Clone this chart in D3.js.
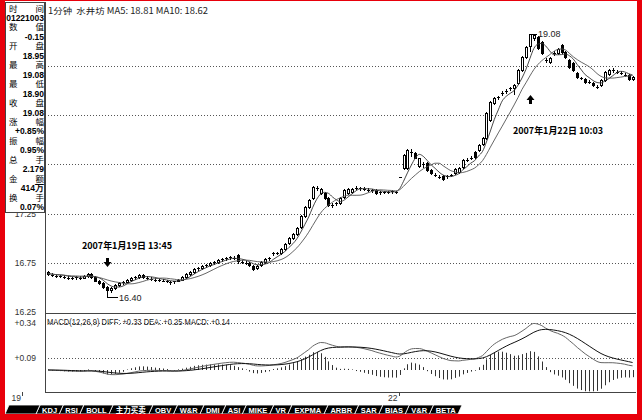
<!DOCTYPE html>
<html><head><meta charset="utf-8">
<script src="https://cdn.jsdelivr.net/npm/d3@7"></script>
<style>body{margin:0;background:#fff}svg{display:block}</style>
</head><body><svg id="c" width="642" height="420"></svg>
<script>
// ---------- data ----------
const opens=[16.66,16.64,16.63,16.62,16.62,16.61,16.60,16.60,16.61,16.60,16.62,16.64,16.61,16.57,16.54,16.50,16.47,16.49,16.52,16.54,
16.55,16.58,16.60,16.61,16.63,16.61,16.60,16.59,16.58,16.58,16.57,16.56,16.55,16.56,16.58,16.61,16.64,16.66,16.69,16.70,
16.72,16.73,16.75,16.76,16.78,16.79,16.80,16.81,16.83,16.77,16.76,16.75,16.72,16.70,16.73,16.76,16.79,16.85,16.85,16.85,
16.89,16.95,17.00,17.04,17.11,17.23,17.32,17.41,17.51,17.46,17.46,17.41,17.34,17.35,17.36,17.42,17.46,17.47,17.51,17.51,
17.50,17.49,17.49,17.49,17.47,17.47,17.47,17.47,17.47,17.62,17.71,17.71,17.88,17.87,17.73,17.75,17.76,17.69,17.64,17.62,
17.63,17.62,17.64,17.66,17.67,17.72,17.79,17.82,17.88,17.90,17.96,18.02,18.20,18.37,18.43,18.48,18.49,18.53,18.53,18.58,
18.71,18.84,18.95,19.03,19.04,18.99,18.81,18.79,18.88,18.88,18.96,18.89,18.81,18.78,18.68,18.63,18.62,18.59,18.58,18.54,
18.56,18.61,18.67,18.71,18.69,18.68,18.66,18.66,18.62];
const highs=[16.67,16.65,16.64,16.63,16.63,16.62,16.61,16.62,16.62,16.63,16.65,16.65,16.62,16.58,16.55,16.51,16.50,16.53,16.55,16.56,
16.59,16.61,16.62,16.64,16.64,16.62,16.61,16.60,16.59,16.59,16.58,16.57,16.57,16.59,16.62,16.65,16.67,16.70,16.71,16.73,
16.74,16.76,16.77,16.79,16.80,16.81,16.82,16.82,16.84,16.78,16.77,16.76,16.73,16.73,16.77,16.80,16.81,16.86,16.86,16.90,
16.95,17.01,17.05,17.11,17.24,17.33,17.40,17.53,17.53,17.51,17.47,17.42,17.36,17.37,17.42,17.50,17.51,17.51,17.53,17.52,
17.52,17.51,17.50,17.50,17.48,17.48,17.48,17.49,17.48,17.62,17.86,17.91,17.91,17.88,17.82,17.77,17.77,17.70,17.66,17.64,
17.64,17.64,17.65,17.71,17.72,17.80,17.81,17.84,17.89,17.96,18.03,18.28,18.39,18.43,18.45,18.50,18.52,18.54,18.57,18.72,
18.85,18.95,19.08,19.08,19.05,19.00,18.83,18.84,18.90,18.93,18.97,18.90,18.82,18.79,18.69,18.64,18.63,18.61,18.59,18.56,
18.62,18.70,18.72,18.73,18.71,18.70,18.68,18.67,18.65];
const lows=[16.63,16.62,16.61,16.61,16.60,16.59,16.59,16.59,16.59,16.60,16.61,16.60,16.56,16.53,16.49,16.40,16.45,16.48,16.51,16.53,
16.55,16.57,16.59,16.60,16.60,16.59,16.58,16.57,16.57,16.56,16.55,16.53,16.54,16.56,16.58,16.60,16.63,16.65,16.68,16.69,
16.71,16.72,16.74,16.75,16.77,16.78,16.79,16.79,16.75,16.75,16.74,16.72,16.68,16.69,16.72,16.75,16.78,16.83,16.84,16.84,
16.88,16.94,16.99,17.03,17.10,17.22,17.31,17.40,17.49,17.45,17.40,17.33,17.32,17.34,17.35,17.41,17.45,17.46,17.50,17.49,
17.49,17.48,17.47,17.45,17.45,17.46,17.46,17.46,17.46,17.62,17.70,17.70,17.84,17.81,17.72,17.72,17.68,17.65,17.63,17.61,
17.59,17.61,17.63,17.65,17.66,17.71,17.78,17.80,17.82,17.89,17.95,18.01,18.19,18.36,18.41,18.46,18.48,18.51,18.47,18.57,
18.70,18.83,18.90,19.01,18.92,18.87,18.79,18.78,18.86,18.87,18.88,18.83,18.73,18.70,18.63,18.62,18.58,18.58,18.55,18.53,
18.55,18.60,18.66,18.69,18.68,18.67,18.65,18.61,18.61];
const closes=[16.64,16.63,16.62,16.62,16.61,16.60,16.60,16.61,16.60,16.62,16.64,16.61,16.57,16.54,16.50,16.47,16.49,16.52,16.54,16.55,
16.58,16.60,16.61,16.63,16.61,16.60,16.59,16.58,16.58,16.57,16.56,16.55,16.56,16.58,16.61,16.64,16.66,16.69,16.70,16.72,
16.73,16.75,16.76,16.78,16.79,16.80,16.81,16.80,16.77,16.76,16.75,16.73,16.69,16.72,16.76,16.79,16.80,16.85,16.85,16.89,
16.94,17.00,17.04,17.10,17.23,17.32,17.39,17.52,17.51,17.50,17.41,17.34,17.34,17.36,17.41,17.49,17.50,17.50,17.51,17.51,
17.50,17.49,17.49,17.46,17.47,17.47,17.47,17.48,17.47,17.62,17.85,17.90,17.88,17.82,17.81,17.75,17.69,17.66,17.64,17.62,
17.60,17.63,17.64,17.70,17.71,17.79,17.79,17.82,17.83,17.95,18.02,18.27,18.38,18.42,18.43,18.48,18.50,18.53,18.56,18.71,
18.84,18.94,19.08,19.07,18.93,18.88,18.81,18.83,18.88,18.92,18.89,18.84,18.74,18.71,18.64,18.63,18.59,18.59,18.56,18.54,
18.61,18.69,18.71,18.71,18.69,18.68,18.66,18.62,18.64];
const dayStarts=[{i:0,label:"19"},{i:89,label:"22"}];
const priceTicks=[16.25,16.75,17.25,17.75,18.25,18.75];
const macdTicks=[0.34,0.09];
const infoRows=[["时","间","01221003"],["数","值","-0.15"],["开","盘","18.95"],["最","高","19.08"],["最","低","18.90"],
["收","盘","19.08"],["涨","幅","+0.85%"],["振","幅","0.95%"],["总","手","2.179"],["金","额","414万"],["换","手","0.07%"]];
const tabs=["","KDJ","RSI","BOLL","主力买卖","OBV","W&R","DMI","ASI","MIKE","VR","EXPMA","ARBR","SAR","BIAS","V&R","BETA"];
const title="1分钟  水井坊 MA5: 18.81 MA10: 18.62";
const macdTitle="MACD(12,26,9) DIFF: +0.33 DEA: +0.25 MACD: +0.14";
const notes=[{i:15,text:"2007年1月19日 13:45",dir:"down"},{i:122,text:"2007年1月22日 10:03",dir:"up"}];
const cursorIdx=122, lowIdx=15;

// ---------- derived indicators ----------
const N=closes.length;
function ma(n){return closes.map((c,i)=>d3.mean(closes.slice(Math.max(0,i-n+1),i+1)));}
const ma5=ma(5), ma10=ma(10);
let e12=closes[0],e26=closes[0],dea=0;const diff=[],deaA=[],mac=[];
closes.forEach(c=>{e12=e12*11/13+c*2/13;e26=e26*25/27+c*2/27;const d=e12-e26;dea=dea*0.8+d*0.2;diff.push(d);deaA.push(dea);mac.push(2*(d-dea));});

// ---------- layout ----------
const svg=d3.select("#c");
const L=45,R=636,PT=2,PB=313,MB=392;
const x=d3.scaleLinear().domain([0,N-1]).range([48,632.6]);
const y=d3.scaleLinear().domain([16.25,18.75]).range([312,66]);
const ym=d3.scaleLinear().domain([0,0.34]).range([370,323]);
const numFont="'Liberation Sans',Arial,sans-serif", cjk="'Noto Sans CJK SC',sans-serif";

svg.append("rect").attr("width",642).attr("height",420).attr("fill","#fff");

// grid
const g=svg.append("g");
g.selectAll("line.pg").data(priceTicks.filter(t=>t>16.25)).join("line")
 .attr("x1",L).attr("x2",R).attr("y1",d=>Math.round(y(d))+0.5).attr("y2",d=>Math.round(y(d))+0.5)
 .attr("stroke","#555").attr("stroke-dasharray","1,2");
g.selectAll("line.mg").data(macdTicks).join("line")
 .attr("x1",L).attr("x2",R).attr("y1",d=>Math.round(ym(d))+0.5).attr("y2",d=>Math.round(ym(d))+0.5)
 .attr("stroke","#555").attr("stroke-dasharray","1,2");
g.append("line").attr("x1",L+0.5).attr("x2",L+0.5).attr("y1",PT).attr("y2",MB).attr("stroke","#444");
g.append("line").attr("x1",L).attr("x2",R).attr("y1",PB+0.5).attr("y2",PB+0.5).attr("stroke","#444");
g.append("line").attr("x1",L).attr("x2",R).attr("y1",MB+0.5).attr("y2",MB+0.5).attr("stroke","#444");

// y labels
g.selectAll("text.pl").data(priceTicks).join("text")
 .attr("x",36).attr("y",d=>y(d)+3).attr("text-anchor","end")
 .attr("font-family",numFont).attr("font-size",8.5).attr("fill","#333").text(d=>d.toFixed(2));
g.selectAll("text.ml").data(macdTicks).join("text")
 .attr("x",36).attr("y",d=>ym(d)+3).attr("text-anchor","end")
 .attr("font-family",numFont).attr("font-size",8.5).attr("fill","#333").text(d=>"+"+d.toFixed(2));
g.selectAll("text.xl").data(dayStarts).join("text")
 .attr("x",d=>d.i===0?21:x(d.i)-2).attr("y",401).attr("text-anchor","end")
 .attr("font-family",numFont).attr("font-size",8.5).attr("fill","#333").text(d=>d.label);
g.selectAll("line.xt").data(dayStarts).join("line")
 .attr("x1",d=>d.i===0?22.5:Math.round(x(d.i)-1)+0.5).attr("x2",d=>d.i===0?22.5:Math.round(x(d.i)-1)+0.5)
 .attr("y1",392).attr("y2",396).attr("stroke","#444");

// candles
const cg=svg.append("g");
const idx=d3.range(N);
cg.selectAll("line.w").data(idx).join("line")
 .attr("x1",i=>Math.round(x(i))+0.5).attr("x2",i=>Math.round(x(i))+0.5)
 .attr("y1",i=>Math.round(y(highs[i]))).attr("y2",i=>Math.round(y(lows[i]))+1)
 .attr("stroke","#000");
cg.selectAll("rect.b").data(idx.filter(i=>Math.abs(opens[i]-closes[i])>=0.015)).join("rect")
 .attr("x",i=>Math.round(x(i))-0.5).attr("width",2)
 .attr("y",i=>Math.round(y(Math.max(opens[i],closes[i])))+0.5)
 .attr("height",i=>Math.max(1,Math.round(y(Math.min(opens[i],closes[i])))-Math.round(y(Math.max(opens[i],closes[i])))))
 .attr("fill",i=>closes[i]>=opens[i]?"#fff":"#000").attr("stroke","#000");
cg.selectAll("line.d").data(idx.filter(i=>Math.abs(opens[i]-closes[i])<0.015)).join("line")
 .attr("x1",i=>Math.round(x(i))-1).attr("x2",i=>Math.round(x(i))+2)
 .attr("y1",i=>Math.round(y(closes[i]))+0.5).attr("y2",i=>Math.round(y(closes[i]))+0.5)
 .attr("stroke","#000");

// MA lines
const lineP=d3.line().x((d,i)=>x(i)).y(d=>y(d)).curve(d3.curveMonotoneX);
svg.append("path").attr("d",lineP(ma5)).attr("fill","none").attr("stroke","#333").attr("stroke-width",0.9);
svg.append("path").attr("d",lineP(ma10)).attr("fill","none").attr("stroke","#555").attr("stroke-width",0.9);

// MACD
const mg=svg.append("g");
mg.selectAll("line.h").data(idx).join("line")
 .attr("x1",i=>Math.round(x(i))+0.5).attr("x2",i=>Math.round(x(i))+0.5)
 .attr("y1",ym(0)).attr("y2",i=>ym(mac[i])+(mac[i]>=0?-0.5:0.5))
 .attr("stroke","#333").attr("stroke-width",1);
const lineM=d3.line().x((d,i)=>x(i)).y(d=>ym(d)).curve(d3.curveMonotoneX);
mg.append("path").attr("d",lineM(diff)).attr("fill","none").attr("stroke","#666");
mg.append("path").attr("d",lineM(deaA)).attr("fill","none").attr("stroke","#111");

// titles
svg.append("text").attr("x",48).attr("y",14).attr("font-family",cjk).attr("font-size",8.5).attr("fill","#222")
 .attr("xml:space","preserve").attr("textLength",160).attr("lengthAdjust","spacingAndGlyphs").text(title);
svg.append("text").attr("x",47).attr("y",325).attr("font-family",numFont).attr("font-size",8.5).attr("fill","#222")
 .attr("textLength",183).attr("lengthAdjust","spacingAndGlyphs").text(macdTitle);

// annotations
const an=svg.append("g").attr("font-family",cjk).attr("font-weight","bold").attr("font-size",9.5).attr("fill","#000");
notes.forEach(n=>{
  const xc=Math.round(x(n.i))+0.5;
  if(n.dir==="down"){
    an.append("text").attr("x",82).attr("y",249).attr("textLength",90).attr("lengthAdjust","spacingAndGlyphs").text(n.text);
    an.append("path").attr("d",`M${xc-1.5},${258}h3v4h2.5l-4,5l-4,-5h2.5z`).attr("fill","#000");
  } else {
    an.append("text").attr("x",513).attr("y",134).attr("textLength",90).attr("lengthAdjust","spacingAndGlyphs").text(n.text);
    an.append("path").attr("d",`M${xc-1.5},${104}h3v-4h2.5l-4,-5l-4,5h2.5z`).attr("fill","#000");
  }
});
const lx=Math.round(x(lowIdx));
svg.append("line").attr("x1",lx+1).attr("x2",lx+11).attr("y1",Math.round(y(lows[lowIdx]))+0.5).attr("y2",Math.round(y(lows[lowIdx]))+0.5).attr("stroke","#000");
svg.append("text").attr("x",lx+12).attr("y",y(lows[lowIdx])+3.5).attr("font-family",numFont).attr("font-size",9).attr("fill","#222").text(lows[lowIdx].toFixed(2));
const hx=Math.round(x(cursorIdx));
svg.append("line").attr("x1",hx+2).attr("x2",hx+7).attr("y1",Math.round(y(highs[cursorIdx]))+0.5).attr("y2",Math.round(y(highs[cursorIdx]))+0.5).attr("stroke","#000");
svg.append("text").attr("x",hx+8).attr("y",y(highs[cursorIdx])+3).attr("font-family",numFont).attr("font-size",9).attr("fill","#222").text(highs[cursorIdx].toFixed(2));

// info panel
const ip=svg.append("g");
ip.append("rect").attr("x",5.5).attr("y",2.5).attr("width",39).attr("height",210).attr("fill","#fff").attr("stroke","#444");
infoRows.forEach((r,k)=>{
  const yl=11.5+k*18.9, yv=21+k*18.9;
  ip.append("text").attr("x",9).attr("y",yl).attr("font-family",cjk).attr("font-size",8.5).attr("fill","#000").text(r[0]);
  ip.append("text").attr("x",44).attr("y",yl).attr("text-anchor","end").attr("font-family",cjk).attr("font-size",8.5).attr("fill","#000").text(r[1]);
  ip.append("text").attr("x",44).attr("y",yv).attr("text-anchor","end").attr("font-family",numFont).attr("font-weight","bold").attr("font-size",8.5).attr("fill","#000").text(r[2]);
});

// tabs
const tg=svg.append("g");
const tabText=tg.selectAll("text").data(tabs).join("text")
 .attr("y",412.5).attr("text-anchor","middle")
 .attr("font-family",d=>/[\u4e00-\u9fff]/.test(d)?cjk:numFont).attr("font-weight","bold").attr("font-size",7.5).attr("fill","#fff").text(d=>d);
const widths=tabText.nodes().map((n,k)=>k===0?28:n.getComputedTextLength()+6);
const total=d3.sum(widths), kf=(462-5-4)/total;
let tx=5;const lay=widths.map(w=>{const o={x:tx,w:w*kf};tx+=w*kf;return o;});
tg.selectAll("path").data(lay).join("path")
 .attr("d",d=>`M${d.x},414 L${d.x+4},405 L${d.x+d.w+4},405 L${d.x+d.w},414 Z`).attr("fill","#000").attr("stroke","#fff").attr("stroke-width",0.8).lower();
tabText.attr("x",(d,k)=>lay[k].x+lay[k].w/2+2);

// red frame
svg.append("rect").attr("x",0).attr("y",0).attr("width",5).attr("height",420).attr("fill","#e8000b");
svg.append("rect").attr("x",637).attr("y",0).attr("width",5).attr("height",420).attr("fill","#e8000b");
svg.append("rect").attr("x",0).attr("y",414).attr("width",642).attr("height",6).attr("fill","#e8000b");
svg.append("rect").attr("x",0).attr("y",0).attr("width",642).attr("height",1).attr("fill","#e8000b");
</script></body></html>
